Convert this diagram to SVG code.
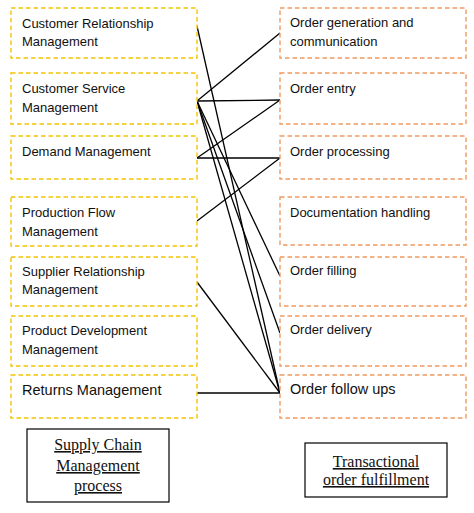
<svg xmlns="http://www.w3.org/2000/svg" width="474" height="513" viewBox="0 0 474 513">
<style>
.l{fill:#fff;stroke:#F5C400;stroke-width:1.4;stroke-dasharray:4.5 3}
.r{fill:#fff;stroke:#EE9A62;stroke-width:1.4;stroke-dasharray:4.5 3}
.t{font-family:"Liberation Sans",Arial,sans-serif;font-size:13px;fill:#111}
.tb{font-family:"Liberation Sans",Arial,sans-serif;font-size:14.5px;fill:#111}
.k{fill:#fff;stroke:#000;stroke-width:1.2}
.s{font-family:"Liberation Serif","Times New Roman",serif;font-size:16px;fill:#111;text-anchor:middle;text-decoration:underline}
#connectors line{stroke:#000;stroke-width:1.3}
</style>
<rect width="474" height="513" fill="#fff"/>
<g id="connectors">
<line x1="197" y1="26" x2="280" y2="393"/>
<line x1="197" y1="101" x2="280" y2="33"/>
<line x1="197" y1="101" x2="280" y2="100"/>
<line x1="197" y1="101" x2="280" y2="276"/>
<line x1="197" y1="101" x2="280" y2="333"/>
<line x1="197" y1="101" x2="280" y2="393"/>
<line x1="197" y1="158" x2="280" y2="100"/>
<line x1="197" y1="158" x2="280" y2="158"/>
<line x1="197" y1="221" x2="280" y2="158"/>
<line x1="197" y1="282" x2="280" y2="393"/>
<line x1="197" y1="393" x2="280" y2="393"/>
</g>
<g id="crm"><rect class="l" x="11" y="8" width="186" height="50"/><text class="t" x="22" y="28">Customer Relationship</text><text class="t" x="22" y="46">Management</text></g>
<g id="csm"><rect class="l" x="11" y="73" width="186" height="51"/><text class="t" x="22" y="93">Customer Service</text><text class="t" x="22" y="112">Management</text></g>
<g id="dm"><rect class="l" x="11" y="136" width="186" height="43"/><text class="t" x="22" y="156">Demand Management</text></g>
<g id="pfm"><rect class="l" x="11" y="197" width="186" height="49"/><text class="t" x="22" y="217">Production Flow</text><text class="t" x="22" y="236">Management</text></g>
<g id="srm"><rect class="l" x="11" y="257" width="186" height="49"/><text class="t" x="22" y="276">Supplier Relationship</text><text class="t" x="22" y="294">Management</text></g>
<g id="pdm"><rect class="l" x="11" y="316" width="186" height="50"/><text class="t" x="22" y="335">Product Development</text><text class="t" x="22" y="354">Management</text></g>
<g id="rm"><rect class="l" x="11" y="375" width="186" height="43"/><text class="tb" x="22" y="395">Returns Management</text></g>
<g id="ogc"><rect class="r" x="280" y="8" width="186" height="50"/><text class="t" x="290" y="27">Order generation and</text><text class="t" x="290" y="46">communication</text></g>
<g id="oe"><rect class="r" x="280" y="73" width="186" height="51"/><text class="t" x="290" y="93">Order entry</text></g>
<g id="op"><rect class="r" x="280" y="136" width="186" height="43"/><text class="t" x="290" y="156">Order processing</text></g>
<g id="dh"><rect class="r" x="280" y="197" width="186" height="48"/><text class="t" x="290" y="217">Documentation handling</text></g>
<g id="of"><rect class="r" x="280" y="257" width="186" height="49"/><text class="t" x="290" y="275">Order filling</text></g>
<g id="od"><rect class="r" x="280" y="316" width="186" height="50"/><text class="t" x="290" y="334">Order delivery</text></g>
<g id="ofu"><rect class="r" x="280" y="375" width="186" height="43"/><text class="tb" x="290" y="394">Order follow ups</text></g>
<g id="scm"><rect class="k" x="27" y="429" width="142" height="73"/><text class="s" x="98" y="450">Supply Chain</text><text class="s" x="98" y="471">Management</text><text class="s" x="98" y="491">process</text></g>
<g id="tof"><rect class="k" x="305" y="443" width="142" height="54"/><text class="s" x="376" y="467">Transactional</text><text class="s" x="376" y="485">order fulfillment</text></g>
</svg>
